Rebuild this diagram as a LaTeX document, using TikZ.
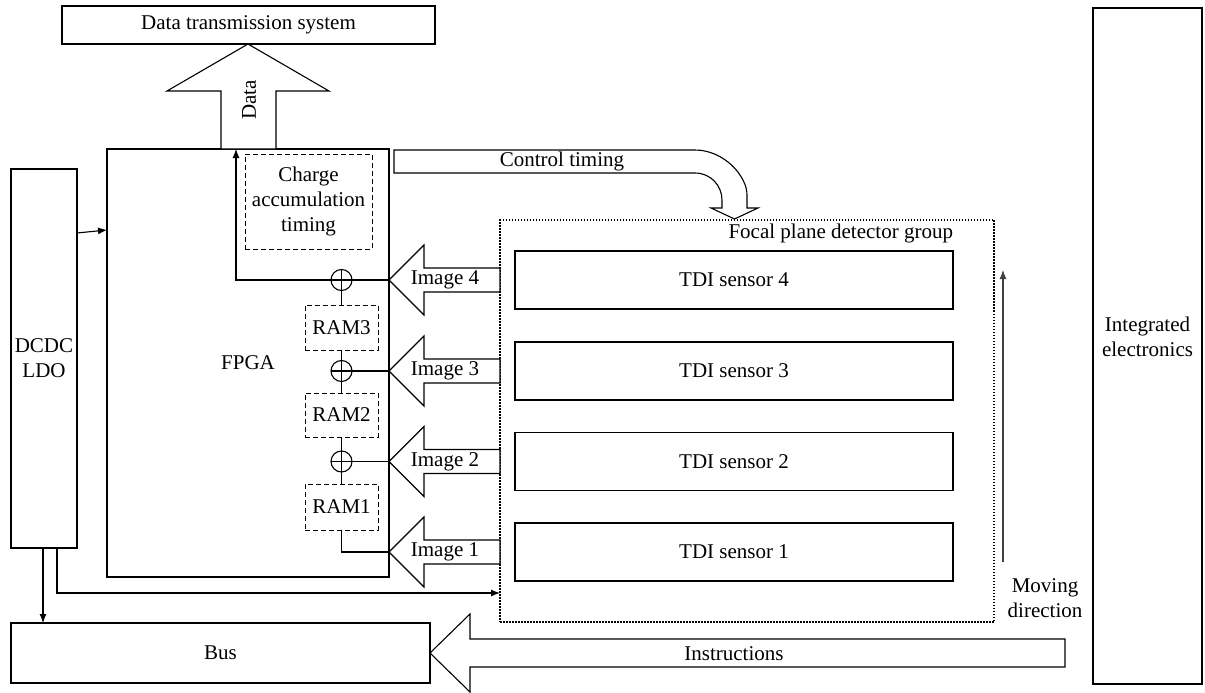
\documentclass[tikz,border=0pt]{standalone}
\usepackage{fontspec}
\setmainfont{Liberation Serif}
\usetikzlibrary{arrows.meta}
\begin{document}
\begin{tikzpicture}[x=1pt,y=-1pt, line width=1.1pt,
  every node/.style={font=\fontsize{21}{25}\selectfont, inner sep=0pt, outer sep=0pt},
  box/.style={draw, line width=1.1pt},
  dbox/.style={draw, dash pattern=on 5pt off 3pt, line width=1pt, align=center},
  fbox/.style={draw, dash pattern=on 1.5pt off 1.5pt, line width=1.2pt},
  arr/.style={-{Latex[length=9pt,width=7pt]}},
  bigarrow/.style={draw, fill=white, line width=1.1pt, line join=miter},
  sumnode/.style={draw, circle, minimum size=21pt, inner sep=0pt}
]
\useasboundingbox (0,0) rectangle (1205,693);

% main blocks
\node[box, minimum width=373pt, minimum height=38pt] (dts) at (248.5,25) {Data transmission system};
\node[box, minimum width=282pt, minimum height=428pt] (fpga) at (248,363) {FPGA};
\node[dbox, minimum width=127pt, minimum height=95pt] (charge) at (308.5,201.5) {Charge\\accumulation\\timing};
\node[dbox, minimum width=73pt, minimum height=45pt] (ram3) at (341.5,327.5) {RAM3};
\node[dbox, minimum width=73pt, minimum height=44pt] (ram2) at (341.5,415) {RAM2};
\node[dbox, minimum width=73pt, minimum height=46pt] (ram1) at (341.5,507) {RAM1};
\node[fbox, minimum width=494pt, minimum height=402pt] (focal) at (747,421) {};
\node[anchor=east] (focallbl) at (953,233) {Focal plane detector group};
\node[box, minimum width=438pt, minimum height=58pt] (tdi4) at (734,280) {TDI sensor 4};
\node[box, minimum width=438pt, minimum height=58pt] (tdi3) at (734,371) {TDI sensor 3};
\node[box, minimum width=438pt, minimum height=58pt] (tdi2) at (734,461.5) {TDI sensor 2};
\node[box, minimum width=438pt, minimum height=58pt] (tdi1) at (734,552) {TDI sensor 1};
\node[box, minimum width=66pt, minimum height=379pt, align=center] (dcdc) at (44,358.5) {DCDC\\LDO};
\node[box, minimum width=419pt, minimum height=60pt] (bus) at (220.5,653) {Bus};
\node[box, minimum width=109pt, minimum height=676pt] (ie) at (1147.5,346) {};
\node[align=center] (ielbl) at (1147.5,337) {Integrated\\electronics};

% Data arrow
\draw[bigarrow] (248,44) -- (329,91) -- (276,91) -- (276,149) -- (221,149) -- (221,91) -- (167,91) -- cycle;
\node[rotate=90] (datalbl) at (249,100) {Data};

% Control timing arrow
\draw[bigarrow] (394,150) -- (695,150) .. controls (724,150) and (747,176) .. (747,195) -- (747,208)
  -- (758,208) -- (734.5,219) -- (711,208) -- (722,208) -- (722,200)
  .. controls (722,186) and (711,173) .. (695,173) -- (394,173) -- cycle;
\node (ctlbl) at (562,161) {Control timing};

% Image arrows
\foreach \c/\k in {280/4, 371/3, 461.5/2, 552/1} {
  \draw[bigarrow] (389,\c) -- (424,\c-35) -- (424,\c-12) -- (500,\c-12) -- (500,\c+12)
    -- (424,\c+12) -- (424,\c+35) -- cycle;
  \node (img\k) at (445,\c) {Image \k};
}

% Instructions arrow
\draw[bigarrow] (430,653) -- (470,614) -- (470,639) -- (1065,639) -- (1065,667) -- (470,667) -- (470,692) -- cycle;
\node (instr) at (734,654) {Instructions};

% summing nodes
\foreach \n/\y in {s4/280, s3/371, s2/461.5} {
  \node[sumnode] (\n) at (341.5,\y) {};
  \draw (\n.north) -- (\n.south) (\n.west) -- (\n.east);
}

% connections inside FPGA
\coordinate (turn) at (236,280);
\coordinate (ram1turn) at (341.5,552);
\draw (s4.east) -- (fpga.east |- s4);
\draw (s3.east) -- (fpga.east |- s3);
\draw (s2.east) -- (fpga.east |- s2);
\draw[arr] (s4.west) -- (turn) -- (turn |- fpga.north);
\draw (s4.south) -- (ram3.north);
\draw (ram3.south) -- (s3.north);
\draw (s3.south) -- (ram2.north);
\draw (ram2.south) -- (s2.north);
\draw (s2.south) -- (ram1.north);
\draw (ram1.south) -- (ram1turn) -- (fpga.east |- ram1turn);

% power connections
\coordinate (pwA) at (77,233);
\coordinate (pwB) at (107,230);
\draw[arr] (pwA) -- (pwB);
\coordinate (d1) at (43,548);
\coordinate (d2) at (57,548);
\coordinate (d2turn) at (57,593);
\draw[arr] (d1) -- (d1 |- bus.north);
\draw[arr] (d2) -- (d2turn) -- (focal.west |- d2turn);

% moving direction
\coordinate (m1) at (1003,562);
\coordinate (m2) at (1003,270);
\draw[arr, black!75] (m1) -- (m2);
\node[align=center] (movlbl) at (1045,598) {Moving\\direction};
\end{tikzpicture}
\end{document}
